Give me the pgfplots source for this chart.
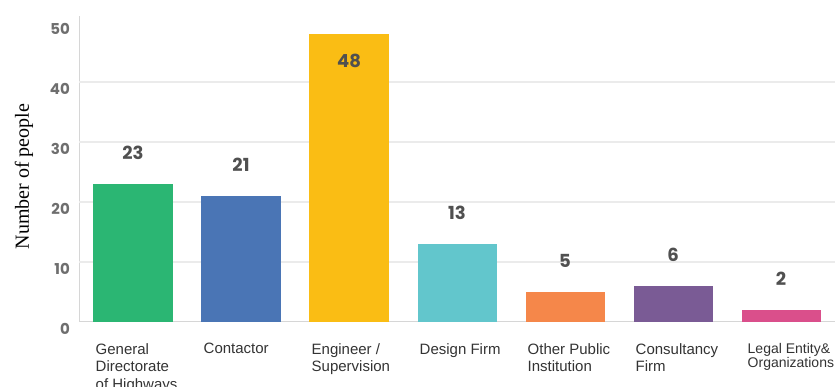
\documentclass[border=0pt]{standalone}
\usepackage{pgfplots}
\pgfplotsset{compat=1.18}
\usepackage{fontspec}
\setmainfont{Liberation Sans}
\newfontfamily\pop{Poppins}
\newfontfamily\serifl{Liberation Serif}
\definecolor{cgreen}{HTML}{2BB673}
\definecolor{cblue}{HTML}{4A75B5}
\definecolor{cyellow}{HTML}{FABD14}
\definecolor{cteal}{HTML}{62C6CC}
\definecolor{corange}{HTML}{F5874A}
\definecolor{cpurple}{HTML}{7A5B95}
\definecolor{cpink}{HTML}{DA4F8B}
\definecolor{tickgray}{HTML}{6E6E6E}
\definecolor{valgray}{HTML}{505050}
\definecolor{labgray}{HTML}{333333}
\begin{document}
\begin{tikzpicture}
\useasboundingbox (0,0) rectangle (835pt,387pt);
\clip (0,0) rectangle (835pt,387pt);
\begin{axis}[
  at={(79pt,65pt)}, anchor=south west,
  scale only axis, width=756pt, height=306pt,
  xmin=-0.5, xmax=6.5, ymin=0, ymax=51,
  ybar, bar width=79pt,
  axis lines=left,
  axis line style={-, draw=black!16, line width=1pt},
  xtick={0,1,2,3,4,5,6},
  xticklabels={
    {General\\Directorate\\of Highways},
    {Contactor},
    {Engineer /\\Supervision},
    {Design Firm},
    {Other Public\\Institution},
    {Consultancy\\Firm},
    {\fontsize{14}{14.5}\selectfont\hspace*{4pt}Legal Entity\&\\[-3pt]\fontsize{14}{14.5}\selectfont\hspace*{4pt}Organizations}},
  xticklabel style={anchor=north west, align=left, inner sep=0pt,
    font=\fontsize{15}{17.5}\selectfont, text=labgray, xshift=-37.5pt, yshift=-21pt},
  major tick length=0pt,
  ytick={0,10,20,30,40,50},
  yticklabel style={font=\pop\bfseries\fontsize{15}{17}\selectfont, text=tickgray,
    anchor=east, inner sep=0pt, xshift=-9pt, yshift=-7pt},
  /pgf/number format/assume math mode=true,
  extra y ticks={10,20,30,40},
  extra y tick labels={},
  extra y tick style={grid=major, major grid style={draw=black!8, line width=1.2pt}},
  every axis y label/.style={at={(axis description cs:-0.0728,0.475)}, rotate=90, anchor=center},
  ylabel={\serifl\fontsize{20}{22}\selectfont Number of people},
  lab/.style={nodes near coords, nodes near coords style={font=\pop\bfseries\fontsize{18}{20}\selectfont, text=valgray, anchor=center, yshift=#1}},
  b/.style={fill=#1, draw=none, bar shift=0pt},
]
\addplot[b=cgreen, lab=31pt] coordinates {(0,23)};
\addplot[b=cblue, lab=31pt] coordinates {(1,21)};
\addplot[b=cyellow, lab=-27pt] coordinates {(2,48)};
\addplot[b=cteal, lab=31pt] coordinates {(3,13)};
\addplot[b=corange, lab=31pt] coordinates {(4,5)};
\addplot[b=cpurple, lab=31pt] coordinates {(5,6)};
\addplot[b=cpink, lab=31pt] coordinates {(6,2)};
\end{axis}
\end{tikzpicture}
\end{document}
